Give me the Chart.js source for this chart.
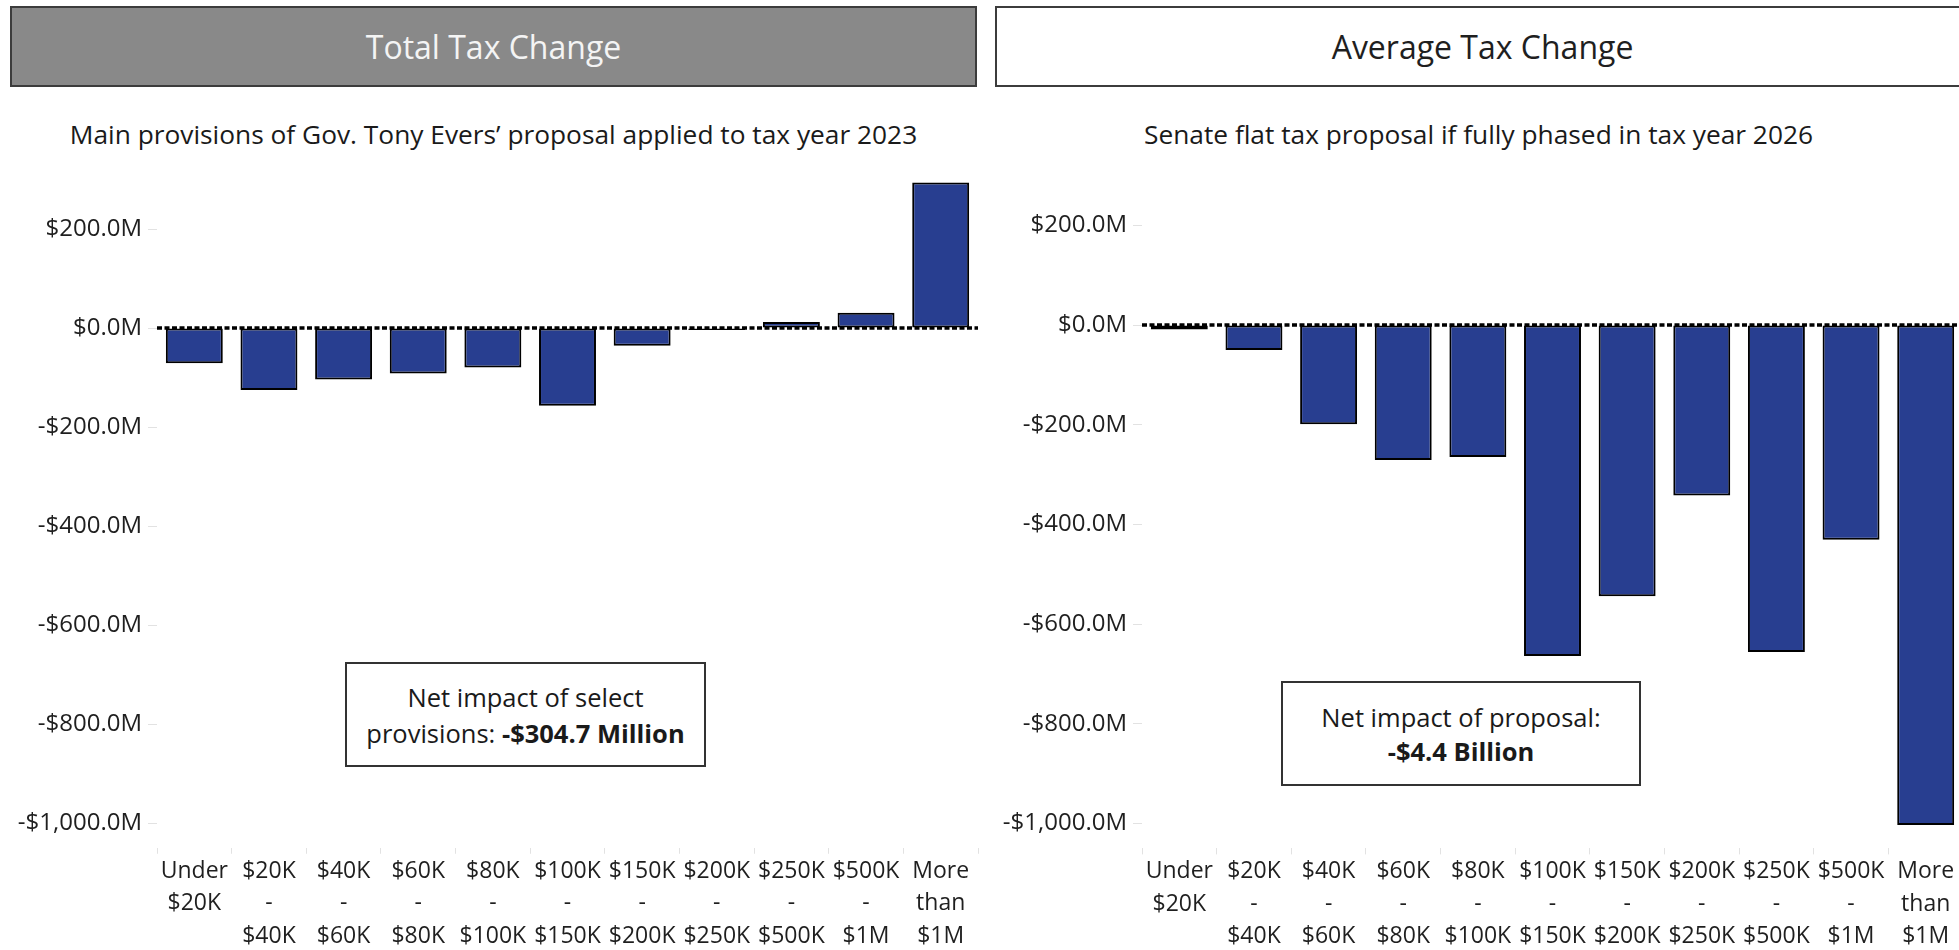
<!DOCTYPE html>
<html>
<head>
<meta charset="utf-8">
<script src="https://cdn.jsdelivr.net/npm/chart.js@4.4.1/dist/chart.umd.min.js"></script>
<style>
html,body{margin:0;padding:0;background:#fff;}
body{width:1959px;height:950px;overflow:hidden;position:relative;font-family:"Open Sans",sans-serif;color:#1f1f1f;}
.hdr{position:absolute;top:6px;height:81px;box-sizing:border-box;border:2px solid #3c3c3c;display:flex;align-items:center;justify-content:center;font-size:32px;}
#hdrL{left:10px;width:967px;background:#898989;color:#f4f4f4;}
#hdrR{left:995px;width:975px;background:#fff;color:#1f1f1f;}
.sub{position:absolute;top:115px;height:38px;line-height:38px;text-align:center;font-size:26.3px;white-space:nowrap;color:#1a1a1a;}
#subL{left:10px;width:967px;}
#subR{left:995px;width:967px;}
canvas{position:absolute;top:0;}
#cL{left:0;}
#cR{left:985px;}
.note{position:absolute;box-sizing:border-box;border:2px solid #333;background:#fff;display:flex;flex-direction:column;justify-content:center;align-items:center;font-size:25.5px;color:#1a1a1a;white-space:nowrap;}
#noteL{left:345px;top:662px;width:361px;height:105px;line-height:36px;}
#noteR{left:1281px;top:681px;width:360px;height:105px;line-height:34px;}
b{font-weight:700;}
</style>
</head>
<body>
<div class="hdr" id="hdrL">Total Tax Change</div>
<div class="hdr" id="hdrR">Average Tax Change</div>
<div class="sub" id="subL">Main provisions of Gov. Tony Evers’ proposal applied to tax year 2023</div>
<div class="sub" id="subR">Senate flat tax proposal if fully phased in tax year 2026</div>
<canvas id="cL" width="990" height="950"></canvas>
<canvas id="cR" width="990" height="950"></canvas>
<div class="note" id="noteL"><div>Net impact of select</div><div>provisions: <b>-$304.7 Million</b></div></div>
<div class="note" id="noteR"><div>Net impact of proposal:</div><div><b>-$4.4 Billion</b></div></div>
<script>
// ---- data ----
const categories = ["Under $20K","$20K - $40K","$40K - $60K","$60K - $80K","$80K - $100K","$100K - $150K","$150K - $200K","$200K - $250K","$250K - $500K","$500K - $1M","More than $1M"];
const totalTaxChange = [-71,-125,-104,-92,-80,-157,-36,-4,12,31,294];      // $M
const averageTaxChange = [-9,-50,-199,-271,-265,-664,-544,-342,-656,-431,-1003]; // $M
const yTickValues = [-1000,-800,-600,-400,-200,0,200];
const yMin = -1050, yMax = 320;

const FONT = '"Open Sans", sans-serif';
const BAR = '#283e90';

function fmtMoney(v){
  const s = '$' + Math.abs(v).toLocaleString('en-US',{minimumFractionDigits:1,maximumFractionDigits:1}) + 'M';
  return v < 0 ? '-' + s : s;
}

const zeroLine = {
  id:'zeroLine',
  afterDatasetsDraw(chart){
    const {ctx, chartArea, scales} = chart;
    const py = scales.y.getPixelForValue(0);
    ctx.save();
    ctx.strokeStyle = '#000';
    ctx.lineWidth = 3.5;
    ctx.setLineDash([5,2.5]);
    ctx.beginPath();
    ctx.moveTo(chartArea.left, py);
    ctx.lineTo(chartArea.right, py);
    ctx.stroke();
    ctx.restore();
  }
};

function makeChart(id, values, padTop, xHeight){
  return new Chart(document.getElementById(id), {
    type:'bar',
    data:{
      labels: categories.map(c => c.split(' ')),
      datasets:[{
        data: values,
        backgroundColor: BAR,
        borderColor: '#000',
        borderWidth: 2,
        borderSkipped: false,
        categoryPercentage: 1,
        barPercentage: 0.763
      }]
    },
    options:{
      responsive:false,
      animation:false,
      events:[],
      layout:{padding:{top:padTop,right:12,left:0,bottom:0}},
      plugins:{legend:{display:false},tooltip:{enabled:false},title:{display:false}},
      scales:{
        x:{
          type:'category',
          offset:true,
          grid:{offset:true,drawOnChartArea:false,drawTicks:true,tickLength:6,tickColor:'#e2e2e2',color:'#e2e2e2'},
          border:{display:false},
          ticks:{font:{family:FONT,size:23,lineHeight:'32.5px'},color:'#1f1f1f',padding:1,maxRotation:0,minRotation:0,autoSkip:false},
          afterFit(s){ s.height = xHeight; }
        },
        y:{
          type:'linear',
          min:yMin,
          max:yMax,
          afterBuildTicks(s){ s.ticks = yTickValues.map(v => ({value:v})); },
          grid:{drawOnChartArea:false,drawTicks:true,tickLength:9,tickColor:'#e2e2e2',color:'#e2e2e2'},
          border:{display:false},
          ticks:{font:{family:FONT,size:24},color:'#1f1f1f',padding:6,callback:(v)=>fmtMoney(v)},
          afterFit(s){ s.width = 157; }
        }
      }
    },
    plugins:[zeroLine]
  });
}

makeChart('cL', totalTaxChange, 169.6, 102.25);
makeChart('cR', averageTaxChange, 165.5, 101.6);
</script>
</body>
</html>
